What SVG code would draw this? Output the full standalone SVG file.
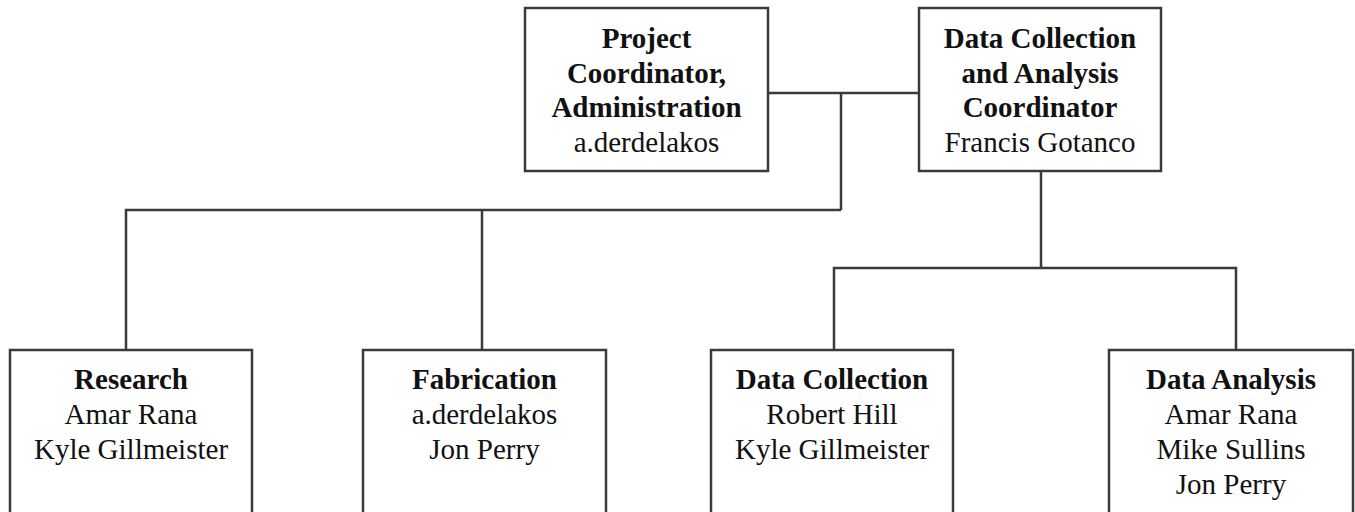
<svg xmlns="http://www.w3.org/2000/svg" width="1355" height="512" viewBox="0 0 1355 512">
<style>
.box{fill:#fff;stroke:#3a3a3a;stroke-width:2.5}
.con{fill:none;stroke:#3a3a3a;stroke-width:2.5}
text{font-family:"Liberation Serif","Times New Roman",serif;font-size:29px;fill:#111;text-anchor:middle}
.b{font-weight:bold}
</style>
<rect width="1355" height="512" fill="#fff"/>
<g id="connectors">
<path class="con" d="M768 93 H919"/>
<path class="con" d="M841 93 V210"/>
<path class="con" d="M126 350 V210 H841"/>
<path class="con" d="M482 210 V350"/>
<path class="con" d="M1041 171 V268"/>
<path class="con" d="M834 350 V268 H1236 V350"/>
</g>
<g id="project-coordinator">
<rect class="box" x="525" y="8" width="243" height="163"/>
<text class="b" x="646.5" y="48">Project</text>
<text class="b" x="646.5" y="82.5">Coordinator,</text>
<text class="b" x="646.5" y="117">Administration</text>
<text x="646.5" y="152">a.derdelakos</text>
</g>
<g id="data-coordinator">
<rect class="box" x="919" y="8" width="242" height="163"/>
<text class="b" x="1040" y="48">Data Collection</text>
<text class="b" x="1040" y="82.5">and Analysis</text>
<text class="b" x="1040" y="117">Coordinator</text>
<text x="1040" y="152">Francis Gotanco</text>
</g>
<g id="research">
<rect class="box" x="10" y="350" width="242" height="170"/>
<text class="b" x="131" y="389">Research</text>
<text x="131" y="424">Amar Rana</text>
<text x="131" y="459">Kyle Gillmeister</text>
</g>
<g id="fabrication">
<rect class="box" x="363" y="350" width="243" height="170"/>
<text class="b" x="484.5" y="389">Fabrication</text>
<text x="484.5" y="424">a.derdelakos</text>
<text x="484.5" y="459">Jon Perry</text>
</g>
<g id="data-collection">
<rect class="box" x="711" y="350" width="242" height="170"/>
<text class="b" x="832" y="389">Data Collection</text>
<text x="832" y="424">Robert Hill</text>
<text x="832" y="459">Kyle Gillmeister</text>
</g>
<g id="data-analysis">
<rect class="box" x="1109" y="350" width="244" height="170"/>
<text class="b" x="1231" y="389">Data Analysis</text>
<text x="1231" y="424">Amar Rana</text>
<text x="1231" y="459">Mike Sullins</text>
<text x="1231" y="494">Jon Perry</text>
</g>
</svg>
